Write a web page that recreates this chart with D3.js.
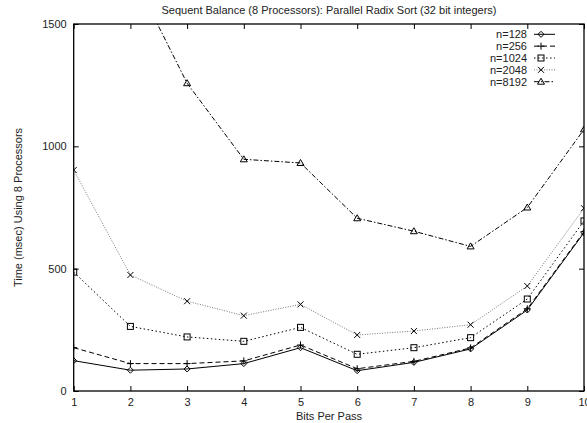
<!DOCTYPE html>
<html>
<head>
<meta charset="utf-8">
<script src="https://cdn.jsdelivr.net/npm/d3@7"></script>
<style>
  html, body { margin: 0; padding: 0; background: #fff; }
  svg { display: block; font-family: "Liberation Sans", Arial, Helvetica, sans-serif; }
</style>
</head>
<body>
<svg id="chart" width="587" height="423"></svg>
<script>
// Bits per pass on the x axis
const bitsPerPass = [1, 2, 3, 4, 5, 6, 7, 8, 9, 10];

// Sort time (msec) on 8 processors for each problem size (null = not recorded)
const n128  = [124, 85, 90, 112, 177, 83, 117, 172, 331, 647];
const n256  = [177, 112, 112, 123, 188, 91, 121, 176, 336, 651];
const n1024 = [486, 264, 221, 203, 260, 150, 177, 218, 376, 695];
const n2048 = [903, 474, 367, 308, 354, 229, 245, 271, 429, 747];
const n8192 = [null, 1720, 1258, 947, 932, 706, 653, 591, 750, 1069];

const seriesNames = ["n=128", "n=256", "n=1024", "n=2048", "n=8192"];
const yTicks = [0, 500, 1000, 1500];

const series = [
  { name: seriesNames[0], values: n128,  dash: null,        color: "#000", marker: "diamond" },
  { name: seriesNames[1], values: n256,  dash: "5,3",       color: "#000", marker: "plus" },
  { name: seriesNames[2], values: n1024, dash: "1.5,2.5",   color: "#000", marker: "square" },
  { name: seriesNames[3], values: n2048, dash: "1,1.5",     color: "#777", marker: "cross" },
  { name: seriesNames[4], values: n8192, dash: "5,2,1.5,2", color: "#000", marker: "triangle" }
];

const svg = d3.select("#chart");
const plotLeft = 73.7, plotRight = 584, plotTop = 24, plotBottom = 391;

const x = d3.scaleLinear().domain([1, 10]).range([plotLeft, plotRight]);
const y = d3.scaleLinear().domain([0, 1500]).range([plotBottom, plotTop]);

// Clip lines to the plotting area
svg.append("defs").append("clipPath").attr("id", "plot")
  .append("rect").attr("x", plotLeft).attr("y", plotTop)
  .attr("width", plotRight - plotLeft).attr("height", plotBottom - plotTop);

// Axes with inward ticks on all four sides
const tickLen = 5;
const axisFont = g => g.selectAll("text").attr("font-size", 11).attr("fill", "#222")
  .attr("font-family", "'Liberation Sans', Arial, sans-serif");

svg.append("g").attr("transform", `translate(0,${plotBottom})`)
  .call(d3.axisBottom(x).tickValues(bitsPerPass).tickFormat(d3.format("d"))
    .tickSizeInner(-tickLen).tickSizeOuter(0).tickPadding(7))
  .call(g => g.select(".domain").remove())
  .call(axisFont);

svg.append("g").attr("transform", `translate(0,${plotTop})`)
  .call(d3.axisTop(x).tickValues(bitsPerPass).tickFormat("")
    .tickSizeInner(-tickLen).tickSizeOuter(0))
  .call(g => g.select(".domain").remove());

svg.append("g").attr("transform", `translate(${plotLeft},0)`)
  .call(d3.axisLeft(y).tickValues(yTicks).tickFormat(d3.format("d"))
    .tickSizeInner(-tickLen).tickSizeOuter(0).tickPadding(7))
  .call(g => g.select(".domain").remove())
  .call(axisFont);

svg.append("g").attr("transform", `translate(${plotRight},0)`)
  .call(d3.axisRight(y).tickValues(yTicks).tickFormat("")
    .tickSizeInner(-tickLen).tickSizeOuter(0))
  .call(g => g.select(".domain").remove());

svg.append("rect").attr("x", plotLeft).attr("y", plotTop)
  .attr("width", plotRight - plotLeft).attr("height", plotBottom - plotTop)
  .attr("fill", "none").attr("stroke", "#000").attr("stroke-width", 1.3);

// Marker shapes
function drawMarker(g, type, cx, cy) {
  const s = 3;
  if (type === "diamond") {
    g.append("path").attr("d", `M${cx},${cy - s}L${cx + s},${cy}L${cx},${cy + s}L${cx - s},${cy}Z`)
      .attr("fill", "none").attr("stroke", "#000");
  } else if (type === "plus") {
    g.append("path").attr("d", `M${cx - s - 0.5},${cy}H${cx + s + 0.5}M${cx},${cy - s - 0.5}V${cy + s + 0.5}`)
      .attr("stroke", "#000");
  } else if (type === "square") {
    g.append("rect").attr("x", cx - s).attr("y", cy - s).attr("width", 2 * s).attr("height", 2 * s)
      .attr("fill", "none").attr("stroke", "#000");
  } else if (type === "cross") {
    g.append("path").attr("d", `M${cx - s},${cy - s}L${cx + s},${cy + s}M${cx - s},${cy + s}L${cx + s},${cy - s}`)
      .attr("stroke", "#000");
  } else if (type === "triangle") {
    g.append("path").attr("d", `M${cx},${cy - s - 0.5}L${cx + s + 0.5},${cy + s - 0.5}L${cx - s - 0.5},${cy + s - 0.5}Z`)
      .attr("fill", "none").attr("stroke", "#000");
  }
}

const line = d3.line()
  .defined(d => d !== null)
  .x((d, i) => x(bitsPerPass[i]))
  .y(d => y(d));
const plot = svg.append("g").attr("clip-path", "url(#plot)");

series.forEach(s => {
  plot.append("path").datum(s.values)
    .attr("d", line)
    .attr("fill", "none")
    .attr("stroke", s.color)
    .attr("stroke-width", 1)
    .attr("stroke-dasharray", s.dash);
  s.values.forEach((v, i) => {
    if (v !== null && v <= 1500) drawMarker(plot, s.marker, x(bitsPerPass[i]), y(v));
  });
});

// Legend
const legend = svg.append("g");
series.forEach((s, i) => {
  const ly = 34.3 + i * 11.85;
  legend.append("text").attr("x", 527).attr("y", ly + 4)
    .attr("text-anchor", "end").attr("font-size", 11).attr("fill", "#222")
    .text(s.name);
  legend.append("line").attr("x1", 534).attr("x2", 555).attr("y1", ly).attr("y2", ly)
    .attr("stroke", s.color).attr("stroke-width", 1).attr("stroke-dasharray", s.dash);
  drawMarker(legend, s.marker, 541, ly);
});

// Title and axis labels
svg.append("text").attr("x", 329).attr("y", 14).attr("text-anchor", "middle")
  .attr("font-size", 11).attr("fill", "#222")
  .text("Sequent Balance (8 Processors): Parallel Radix Sort (32 bit integers)");

svg.append("text").attr("x", 329).attr("y", 420).attr("text-anchor", "middle")
  .attr("font-size", 11).attr("fill", "#222").text("Bits Per Pass");

svg.append("text").attr("transform", `translate(22,${(plotTop + plotBottom) / 2}) rotate(-90)`)
  .attr("text-anchor", "middle").attr("font-size", 11).attr("fill", "#222")
  .text("Time (msec) Using 8 Processors");
</script>
</body>
</html>
